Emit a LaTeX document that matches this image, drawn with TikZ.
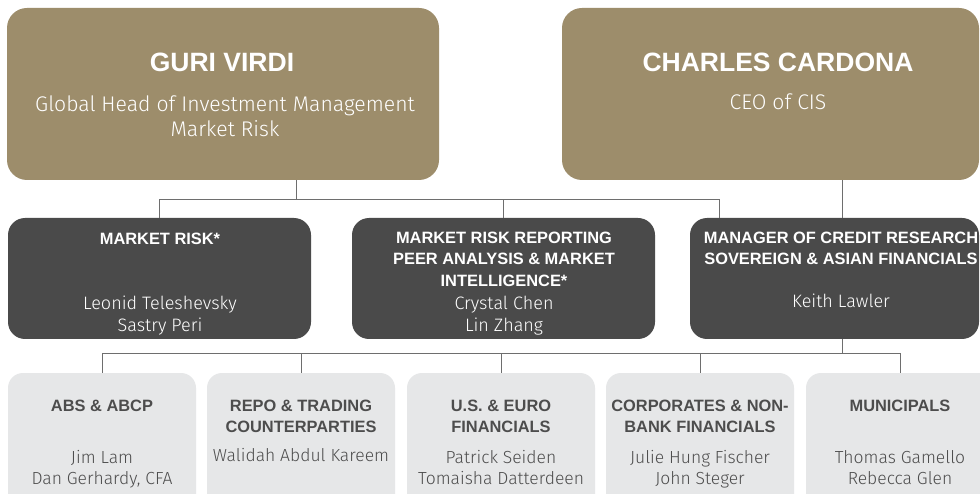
\documentclass[tikz,border=0pt]{standalone}
\usepackage{fontspec}
\setmainfont{Fira Sans Light}[BoldFont={Fira Sans SemiBold}]
\newfontfamily\titlefont{Liberation Sans}[UprightFont={* Bold}]
\usetikzlibrary{calc}
\definecolor{tan}{HTML}{9D8D6B}
\definecolor{darkbox}{HTML}{4A4A4A}
\definecolor{lightbox}{HTML}{E6E7E8}
\definecolor{ltext}{HTML}{4D4D4D}
\definecolor{conncol}{HTML}{6E6E6E}
\tikzset{
  tanbox/.style={fill=tan, rounded corners=20pt, inner sep=0pt},
  darkbx/.style={fill=darkbox, rounded corners=17pt, inner sep=0pt, minimum height=121pt},
  lightbx/.style={fill=lightbox, rounded corners=15pt, inner sep=0pt, minimum width=188pt, minimum height=147pt},
  conn/.style={draw=conncol, line width=1pt},
  bigtitle/.style={anchor=base, inner sep=0pt, text=white, font=\titlefont\fontsize{26.5}{30}\selectfont},
  bigsub/.style={anchor=base, inner sep=0pt, text=white, font=\fontsize{21.2}{25}\selectfont},
  dtitle/.style={anchor=base, inner sep=0pt, text=white, font=\titlefont\fontsize{16.4}{21}\selectfont},
  dname/.style={anchor=base, inner sep=0pt, text=white, font=\fontsize{18}{22}\selectfont},
  ltitle/.style={anchor=base, inner sep=0pt, text=ltext, font=\titlefont\fontsize{16.4}{21}\selectfont},
  lname/.style={anchor=base, inner sep=0pt, text=ltext, font=\fontsize{17.5}{21}\selectfont},
}
\begin{document}
\begin{tikzpicture}[x=1pt,y=-1pt]
\clip (0,0) rectangle (980,494);
\fill[white] (0,0) rectangle (980,494);
% top boxes
\node[tanbox, minimum width=432pt, minimum height=172pt] (guri) at (223,94) {};
\node[tanbox, minimum width=417pt, minimum height=172pt] (charles) at (770.5,94) {};
% dark boxes
\node[darkbx, minimum width=303pt] (d1) at (159.5,278.5) {};
\node[darkbx, minimum width=303pt] (d2) at (503.5,278.5) {};
\node[darkbx, minimum width=289pt] (d3) at (834.5,278.5) {};
% light boxes
\node[lightbx] (l1) at (102,446.5) {};
\node[lightbx] (l2) at (301,446.5) {};
\node[lightbx] (l3) at (501,446.5) {};
\node[lightbx] (l4) at (700,446.5) {};
\node[lightbx] (l5) at (900,446.5) {};
% connectors
\coordinate (gx) at (296,0);
\coordinate (cx) at (842,0);
\coordinate (d3x) at (719,0);
\coordinate (busA) at (0,200);
\coordinate (busB) at (0,353);
\draw[conn] (guri.south -| gx) -- (busA -| gx);
\draw[conn] (d1.north) -- (busA -| d1.north) -- (busA -| d3x) -- (d3.north -| d3x);
\draw[conn] (busA -| d2.north) -- (d2.north);
\draw[conn] (charles.south -| cx) -- (d3.north -| cx);
\draw[conn] (d3.south -| cx) -- (busB -| cx);
\draw[conn] (l1.north) -- (busB -| l1.north) -- (busB -| l5.north) -- (l5.north);
\draw[conn] (busB -| l2.north) -- (l2.north);
\draw[conn] (busB -| l3.north) -- (l3.north);
\draw[conn] (busB -| l4.north) -- (l4.north);
% texts top
\node[bigtitle] (gt) at (222,72) {GURI VIRDI};
\node[bigsub] (gs1) at (225,112) {Global Head of Investment Management};
\node[bigsub] (gs2) at (225,137) {Market Risk};
\node[bigtitle] (ct) at (778,72) {CHARLES CARDONA};
\node[bigsub] (cs1) at (778,110) {CEO of CIS};
% dark texts
\node[dtitle] (d1t) at (160,245) {MARKET RISK*};
\node[dname] (d1n1) at (160,310) {Leonid Teleshevsky};
\node[dname] (d1n2) at (160,332) {Sastry Peri};
\node[dtitle] (d2t1) at (504,244) {MARKET RISK REPORTING};
\node[dtitle] (d2t2) at (504,265) {PEER ANALYSIS \& MARKET};
\node[dtitle] (d2t3) at (504,287) {INTELLIGENCE*};
\node[dname] (d2n1) at (504,310) {Crystal Chen};
\node[dname] (d2n2) at (504,332) {Lin Zhang};
\node[dtitle] (d3t1) at (841,244) {MANAGER OF CREDIT RESEARCH};
\node[dtitle] (d3t2) at (841,265) {SOVEREIGN \& ASIAN FINANCIALS};
\node[dname] (d3n1) at (841,308) {Keith Lawler};
% light texts
\node[ltitle] (l1t) at (102,411) {ABS \& ABCP};
\node[lname] (l1n1) at (102,463) {Jim Lam};
\node[lname] (l1n2) at (102,484) {Dan Gerhardy, CFA};
\node[ltitle] (l2t1) at (301,411) {REPO \& TRADING};
\node[ltitle] (l2t2) at (301,432) {COUNTERPARTIES};
\node[lname] (l2n1) at (301,461) {Walidah Abdul Kareem};
\node[ltitle] (l3t1) at (501,411) {U.S. \& EURO};
\node[ltitle] (l3t2) at (501,432) {FINANCIALS};
\node[lname] (l3n1) at (501,463) {Patrick Seiden};
\node[lname] (l3n2) at (501,484) {Tomaisha Datterdeen};
\node[ltitle] (l4t1) at (700,411) {CORPORATES \& NON-};
\node[ltitle] (l4t2) at (700,432) {BANK FINANCIALS};
\node[lname] (l4n1) at (700,463) {Julie Hung Fischer};
\node[lname] (l4n2) at (700,484) {John Steger};
\node[ltitle] (l5t) at (900,411) {MUNICIPALS};
\node[lname] (l5n1) at (900,463) {Thomas Gamello};
\node[lname] (l5n2) at (900,484) {Rebecca Glen};
\end{tikzpicture}
\end{document}
